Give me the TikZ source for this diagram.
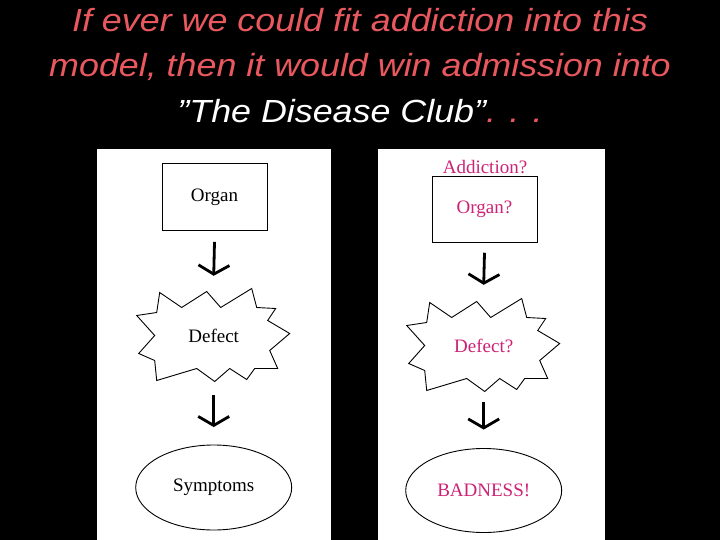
\documentclass[tikz,border=0pt]{standalone}
\usepackage{fontspec}
\setmainfont{Liberation Serif}
\newfontfamily\titlefont[FakeStretch=1.12]{Liberation Sans}
\usetikzlibrary{arrows.meta,shapes.geometric}
\definecolor{titlered}{RGB}{232,88,94}
\definecolor{askpink}{RGB}{204,34,119}

\begin{document}
\begin{tikzpicture}[x=1pt,y=-1pt,
  organbox/.style={draw,line width=0.9pt,minimum width=105pt,minimum height=67pt,inner sep=0pt},
  burstarea/.style={minimum width=153pt,minimum height=93pt,inner sep=0pt},
  blob/.style={draw,ellipse,line width=0.9pt,minimum width=156pt,minimum height=85pt,inner sep=0pt},
  boxtext/.style={font=\fontsize{19}{22}\selectfont},
  headline/.style={font=\titlefont\itshape\fontsize{32}{36}\selectfont,anchor=base,inner sep=0pt},
  downarrow/.style={line width=2.8pt,-{Straight Barb[length=9pt,width=31pt]}},
  burst/.pic={\draw[line width=0.9pt] (-54,-43) -- (-32,-28) -- (-7,-44) -- (7,-28) -- (38,-47)
     -- (43,-28) -- (62,-27) -- (54,-15) -- (76,-2) -- (56,15) -- (64,33) -- (41,33) -- (33,44)
     -- (16,33) -- (1,46) -- (-17,33) -- (-57,45) -- (-59,25) -- (-75,18) -- (-59,0)
     -- (-77,-20) -- (-57,-23) -- cycle;}
]
\useasboundingbox (0,0) rectangle (720,540);
\fill[black] (0,0) rectangle (720,540);

% Title
\node[headline,titlered] (line1) at (360,32) {If ever we could fit addiction into this};
\node[headline,titlered] (line2) at (360,77) {model, then it would win admission into};
\node[headline,titlered] (line3) at (360,123) {{\color{white}”The Disease Club”}. . .};

% Panels
\fill[white] (97,149) rectangle (331,540);
\fill[white] (378,149) rectangle (605,540);

% Left chain
\node[organbox,boxtext] (organ) at (214.5,197) {Organ};
\node[burstarea,boxtext] (defect) at (213.7,335.5) {Defect};
\pic at (defect.center) {burst};
\node[blob,boxtext] (symptoms) at (213.7,487.5) {Symptoms};

\draw[downarrow] ([yshift=-11pt]organ.south) -- ([yshift=13pt]defect.north);
\draw[downarrow] ([yshift=-13pt]defect.south) -- ([yshift=17.5pt]symptoms.north);

% Right chain
\node[boxtext,text=askpink,anchor=base] (addiction) at (485,173.5) {Addiction?};
\node[organbox,boxtext,text=askpink,minimum height=65.6pt] (organq) at (484.5,209.5) {Organ?};
\node[burstarea,boxtext,text=askpink] (defectq) at (483.7,345.5) {Defect?};
\pic at (defectq.center) {burst};
\node[blob,boxtext,text=askpink,minimum height=84pt] (badness) at (483.7,490.5) {BADNESS!};

\draw[downarrow] ([yshift=-10pt]organq.south) -- ([yshift=14pt]defectq.north);
\draw[downarrow] ([yshift=-10pt]defectq.south) -- ([yshift=18.5pt]badness.north);

\end{tikzpicture}
\end{document}
